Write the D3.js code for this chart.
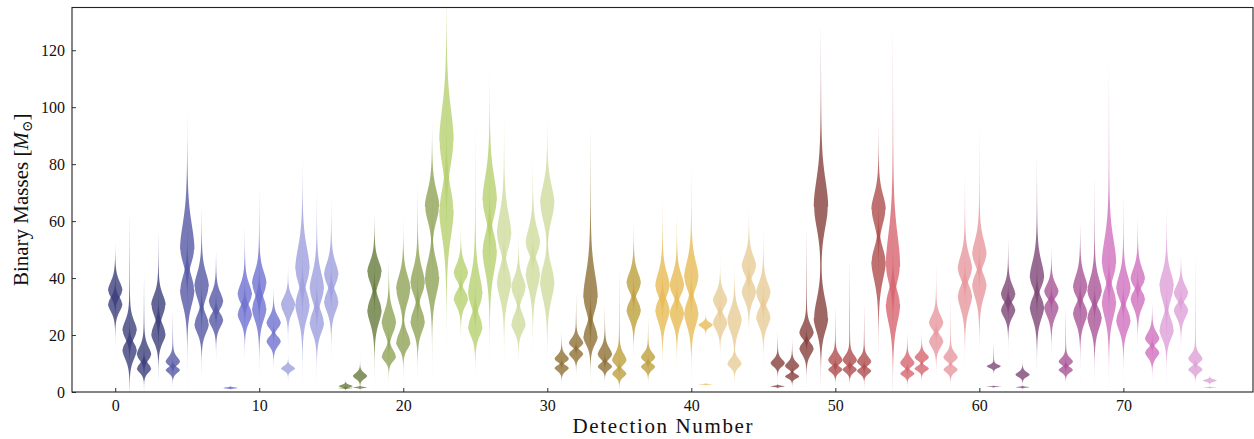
<!DOCTYPE html>
<html><head><meta charset="utf-8">
<script src="https://cdn.jsdelivr.net/npm/d3@7"></script>
<style>body{margin:0;background:#fff}svg{display:block}</style>
</head><body>
<script>
// ---- data ----
const detections = d3.range(77);
const m1Mode  = [35.5,21.5,13,30.5,10.5,50,37,31.5,1.5,34, 38,24,30.5,43,36,41,2.0,5.5,42,24, 36,38,65,88,41.5,34,67,55,36.5,52, 66,11.5,17,33,13,11,38,12,37,37, 40,23.5,32,25,44,34.5,10,9,20.5,65, 11,11,10.5,64,44,10,12,24,12,43, 48,9,34,6,40,35,10.5,36.5,35,45, 36,39.5,18.5,37,34.5,11.5,4];
const m1SigLo = [2.5,3,2,4,1.2,5,4.5,2.5,0.12,3, 4,1.8,3,5,4.5,3.5,0.35,1,4,3.5, 5,4,5.5,9,2.5,4,6,5,3.5,3.5, 6,1,1.2,5,1.5,1.5,3,1.2,3.5,3, 4,0.9,2.5,4,3,3,1.2,1,1.8,8, 1.3,1.3,1.2,5.5,6,1.2,1,2,1.2,3.5, 3.5,0.6,2.3,0.8,3.5,2,1,3,3,5, 3.5,2.5,1.5,5,2.2,1.2,0.4];
const m1SigHi = [3.4,3.6,3,3.8,1.8,9.5,5,3.5,0.15,4, 4.5,2.6,3,8,6,4.5,0.5,1.2,4,4.5, 5,5.5,6,12,3.5,7,9,8,4,5.5, 6.5,1.5,2,9,2.5,2.5,4,1.8,5,4.5, 6,0.9,3,4,4,4,1.5,1.5,3,10, 2,2,1.8,5.5,12,1.8,1.5,3,1.8,5, 5.5,0.6,3.5,1,6,3,1.5,4.5,5,9, 5,4,2.5,5,3,1.8,0.4];
const m2Mode  = [31,15,8.3,20.5,7.8,36,24,25.5,1.3,27.5, 29.5,18,8.3,31,24.5,32,1.4,1.6,29,12.5, 17.5,25,40.5,64,33,23,50,39,24,42, 39,8.5,13.5,19.5,9,6.5,29,9,29,28, 28,2.7,24.5,10,35.5,26.5,2,5.5,15.5,26, 8,8,7.5,46,31,6.5,8.3,18,8,34, 38,1.9,29,1.7,30,30,7.8,28,26.5,32, 25.5,33,14,22,29,8,1.6];
const m2SigLo = [2.9,3.6,1.6,3.3,1.2,5.8,3.5,2.8,0.1,3.2, 4.5,2,0.9,5.5,4,4,0.15,0.2,5,1.8, 2.5,4,6.5,10,3,3.5,8,6,3,6, 6.5,1.2,1.5,3,1.2,1.3,3.5,1.3,4.5,4, 5,0.1,2.8,1.5,3.5,3.5,0.2,0.8,2.5,5, 1.2,1.2,1.2,7,7,1,1,2.5,1.2,5, 5,0.1,2.8,0.15,4.5,3.5,1,4,4.5,6, 4,3.5,2,3.5,3,1.2,0.1];
const m2SigHi = [2.5,2.5,1.8,3.5,1.0,5,3.5,2.3,0.12,3, 4,1.6,0.9,4.5,4,3.5,0.15,0.2,4,2.5, 3.5,4,6,8,2.5,4,6,5,3.5,4, 5.5,0.9,1.2,4,1.2,1.3,3,1,3.5,3, 4,0.1,2.5,1.8,3,3,0.2,0.8,1.8,7, 1,1,1,5,5,1,0.9,2,1,3.5, 3.5,0.1,2.3,0.15,3.5,2,1,3,3,4.5, 3.5,2.5,1.5,4,2,1,0.1];
const tailTop    = [50,66,44,58,30,91,66,50,1.8,59, 74,36,39,79,73,70,3.2,9.5,63,46, 55,75,93,135,56,101,112,99,53,83, 95,22,36,98,32,47,60,28,70,64, 83,26.5,44,42,64,60,22,19,61,134, 32,50,33,95,135,22,21,46,36,80, 98,18,55,10,86,51,32,60,79,122, 72,63,32,67,49,53,6];
const tailBottom = [22,5,3.5,10,4,16,12,16,1.1,17, 11,11,7,13,10,19,1,1,13,8, 11,12,20,26,20,10,16,16,15,20, 16,5,9,9,5,2.5,16,5,13,13, 11,2.4,16,7,22,13,1.5,3.5,8,9, 4,4,4,20,5,4,6,11,3.5,15, 16,1.7,18,1.3,12,17,4,15,10,9, 10,19,8,10,16,4,1.3];
const xTicks = [0,10,20,30,40,50,60,70];
const yTicks = [0,20,40,60,80,100,120];
const palette = ["#393b79","#5254a3","#6b6ecf","#9c9ede","#637939","#8ca252","#b5cf6b","#cedb9c",
                 "#8c6d31","#bd9e39","#e7ba52","#e7cb94","#843c39","#ad494a","#d6616b","#e7969c",
                 "#7b4173","#a55194","#ce6dbd","#de9ed6"];

// ---- layout ----
const W = 1254, H = 439;
const L = 72, R = 1253, T = 7.5, B = 392;
const x = d3.scaleLinear().domain([-3, 79]).range([L, R]);
const y = d3.scaleLinear().domain([0, 135]).range([B, T]);
const colorOf = i => palette[Math.min(19, Math.floor(i * 20 / 76))];
const violinWidth = 1.0, alpha = 0.78, tailFrac = 0.07, nu = 7;

const svg = d3.select("body").append("svg").attr("width", W).attr("height", H);
svg.append("defs").append("clipPath").attr("id", "clip")
  .append("rect").attr("x", L).attr("y", T).attr("width", R - L).attr("height", B - T);

function profile(mode, sLo, sHi, tailEnd, upperTail) {
  const lo = upperTail ? Math.max(0, mode - 7 * sLo) : Math.max(0, Math.min(tailEnd, mode - 7 * sLo));
  const hi = upperTail ? Math.max(tailEnd, mode + 7 * sHi) : mode + 7 * sHi;
  const n = 500, pts = [];
  for (let k = 0; k <= n; k++) {
    const v = lo + (hi - lo) * k / n;
    const z = (v - mode) / (v < mode ? sLo : sHi);
    let d = Math.pow(1 + z * z / nu, -(nu + 1) / 2);
    if (upperTail && v > mode && tailEnd > mode) {
      const t = (v - mode) / (tailEnd - mode);
      if (t < 1) d += tailFrac * Math.pow(1 - t, 1.5);
    }
    if (!upperTail && v < mode && tailEnd < mode) {
      const t = (mode - v) / (mode - tailEnd);
      if (t < 1) d += tailFrac * Math.pow(1 - t, 1.5);
    }
    pts.push([v, d]);
  }
  const mx = d3.max(pts, p => p[1]);
  return pts.map(p => [p[0], p[1] / mx]);
}

const g = svg.append("g").attr("clip-path", "url(#clip)");
const area = i => d3.area()
  .x0(p => x(i - p[1] * violinWidth / 2))
  .x1(p => x(i + p[1] * violinWidth / 2))
  .y(p => y(p[0]));

detections.forEach(i => {
  const c = colorOf(i);
  const p1 = profile(m1Mode[i], m1SigLo[i], m1SigHi[i], tailTop[i], true);
  const p2 = profile(m2Mode[i], m2SigLo[i], m2SigHi[i], tailBottom[i], false);
  g.append("path").attr("d", area(i)(p1)).attr("fill", c).attr("fill-opacity", alpha);
  g.append("path").attr("d", area(i)(p2)).attr("fill", c).attr("fill-opacity", alpha);
});

// ---- axes ----
const font = "'Liberation Serif', 'DejaVu Serif', serif";
const xAxis = svg.append("g").attr("transform", `translate(0,${B})`)
  .call(d3.axisBottom(x).tickValues(xTicks).tickSizeInner(-4).tickSizeOuter(0).tickPadding(8));
const yAxis = svg.append("g").attr("transform", `translate(${L},0)`)
  .call(d3.axisLeft(y).tickValues(yTicks).tickSizeInner(-4).tickSizeOuter(0).tickPadding(7));
[xAxis, yAxis].forEach(a => {
  a.select(".domain").remove();
  a.selectAll(".tick line").attr("stroke", "#333").attr("stroke-width", 1);
  a.selectAll(".tick text").attr("font-family", font).attr("font-size", 16).attr("fill", "#111");
});
svg.append("rect").attr("x", L).attr("y", T).attr("width", R - L).attr("height", B - T)
  .attr("fill", "none").attr("stroke", "#222").attr("stroke-width", 1.1);

svg.append("text").attr("x", (L + R) / 2).attr("y", 433).attr("text-anchor", "middle")
  .attr("font-family", font).attr("font-size", 21).attr("fill", "#111")
  .attr("textLength", 180).attr("lengthAdjust", "spacing")
  .text("Detection Number");

const yl = svg.append("text").attr("transform", `translate(28,${(T + B) / 2}) rotate(-90)`)
  .attr("text-anchor", "middle").attr("font-family", font).attr("font-size", 21).attr("fill", "#111");
yl.append("tspan").text("Binary Masses [");
yl.append("tspan").attr("font-style", "italic").text("M");
yl.append("tspan").attr("font-size", 14).attr("dy", 4).text("⊙");
yl.append("tspan").attr("dy", -4).text("]");
</script>
</body></html>
